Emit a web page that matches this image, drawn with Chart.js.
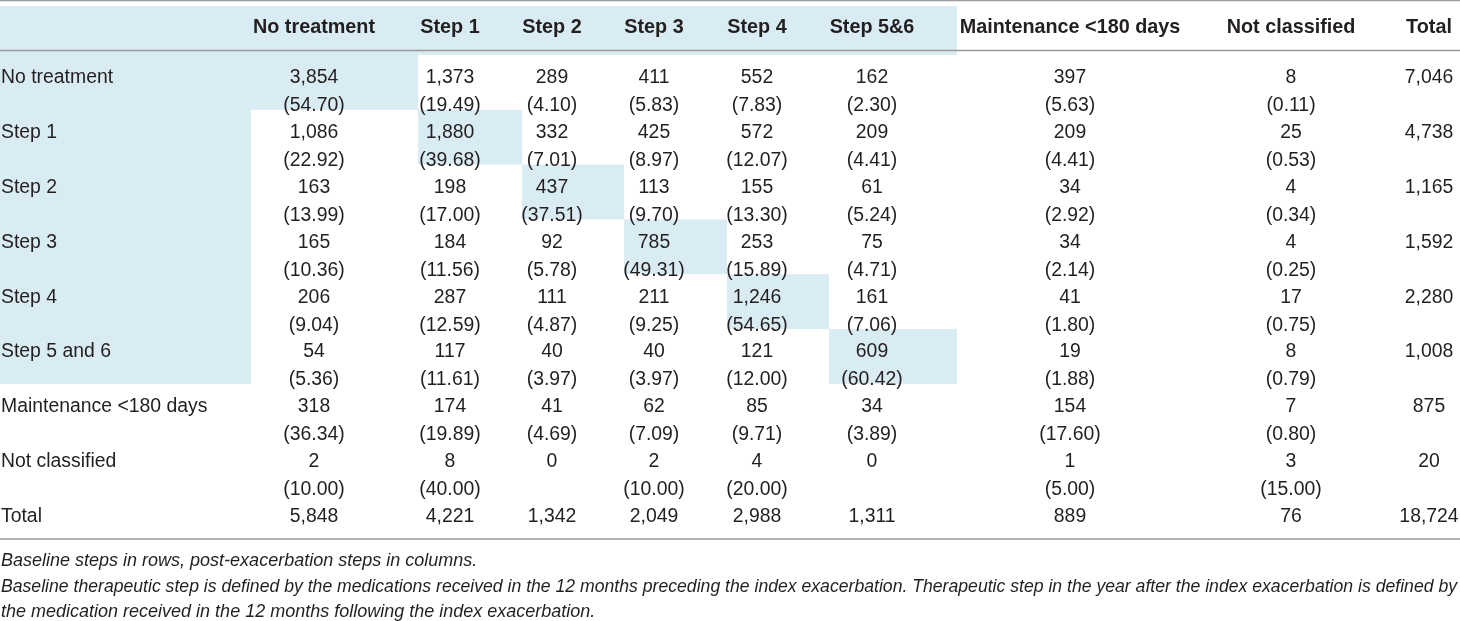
<!DOCTYPE html>
<html>
<head>
<meta charset="utf-8">
<script src="https://cdn.jsdelivr.net/npm/chart.js@4/dist/chart.umd.min.js"></script>
<style>
  html, body { margin: 0; padding: 0; background: #fff; }
  #wrap { width: 1460px; height: 621px; position: relative; }
</style>
</head>
<body>
<div id="wrap"><canvas id="table-chart"></canvas></div>
<script>
// --- Data (baseline steps in rows, post-exacerbation steps in columns) ---
const columnLabels = ['No treatment', 'Step 1', 'Step 2', 'Step 3', 'Step 4', 'Step 5&6', 'Maintenance <180 days', 'Not classified', 'Total'];
const rowLabels = ['No treatment', 'Step 1', 'Step 2', 'Step 3', 'Step 4', 'Step 5 and 6', 'Maintenance <180 days', 'Not classified', 'Total'];

const counts = [
    [3854, 1373, 289, 411, 552, 162, 397, 8],
    [1086, 1880, 332, 425, 572, 209, 209, 25],
    [163, 198, 437, 113, 155, 61, 34, 4],
    [165, 184, 92, 785, 253, 75, 34, 4],
    [206, 287, 111, 211, 1246, 161, 41, 17],
    [54, 117, 40, 40, 121, 609, 19, 8],
    [318, 174, 41, 62, 85, 34, 154, 7],
    [2, 8, 0, 2, 4, 0, 1, 3],
    [5848, 4221, 1342, 2049, 2988, 1311, 889, 76]
];
const rowTotals = [7046, 4738, 1165, 1592, 2280, 1008, 875, 20, 18724];

const percents = [
    [54.70, 19.49, 4.10, 5.83, 7.83, 2.30, 5.63, 0.11],
    [22.92, 39.68, 7.01, 8.97, 12.07, 4.41, 4.41, 0.53],
    [13.99, 17.00, 37.51, 9.70, 13.30, 5.24, 2.92, 0.34],
    [10.36, 11.56, 5.78, 49.31, 15.89, 4.71, 2.14, 0.25],
    [9.04, 12.59, 4.87, 9.25, 54.65, 7.06, 1.80, 0.75],
    [5.36, 11.61, 3.97, 3.97, 12.00, 60.42, 1.88, 0.79],
    [36.34, 19.89, 4.69, 7.09, 9.71, 3.89, 17.60, 0.80],
    [10.00, 40.00, null, 10.00, 20.00, null, 5.00, 15.00],
    null
];

// cells where baseline step == post-exacerbation step (row, column)
const diagonalCells = [[0, 0], [1, 1], [2, 2], [3, 3], [4, 4], [5, 5]];
const shadedHeaderCols = 6;   // label column + No treatment .. Step 5&6
const shadedLabelRows = 6;    // No treatment .. Step 5 and 6

const footnotes = [
    'Baseline steps in rows, post-exacerbation steps in columns.',
    'Baseline therapeutic step is defined by the medications received in the 12 months preceding the index exacerbation. Therapeutic step in the year after the index exacerbation is defined by',
    'the medication received in the 12 months following the index exacerbation.'
];

// --- Layout (table units, 1 unit = 1px of the 1460x621 area) ---
const layout = {
    colEdges: [0, 251, 418, 522, 624, 727, 829, 957],   // label col, then first 7 data cols
    colCenters: [314, 450, 552, 654, 757, 872, 1070, 1291, 1429],
    labelX: 1,
    headerTop: 6,
    headerText: 28,
    headerLine: 50.5,
    rowTop: 55,
    rowH: 54.8,
    valueOffset: 23,
    pctOffset: 51,
    topLine: 0.5,
    bottomLine: 539,
    footY: [560.5, 586.5, 611.5]
};

const textColor = '#231f20';
const shadeColor = '#d9ebf3';
const ruleColor = '#9a9a9a';
const bodyFont = '19.4px "Liberation Sans", Arial, sans-serif';
const headFont = 'bold 19.8px "Liberation Sans", Arial, sans-serif';
const footFont = 'italic 18px "Liberation Sans", Arial, sans-serif';

const fmt = new Intl.NumberFormat('en-US');

const tablePlugin = {
    id: 'tableDraw',
    beforeDatasetsDraw(chart) {
        const ctx = chart.ctx;
        const xs = chart.scales.x, ys = chart.scales.y;
        const X = v => xs.getPixelForValue(v);
        const Y = v => ys.getPixelForValue(v);
        const rowTop = r => layout.rowTop + r * layout.rowH;
        const E = layout.colEdges;

        function rect(x0, x1, y0, y1) {
            ctx.fillRect(X(x0), Y(y0), X(x1) - X(x0), Y(y1) - Y(y0));
        }

        ctx.save();
        // shaded cells
        ctx.fillStyle = shadeColor;
        rect(E[0], E[shadedHeaderCols + 1], layout.headerTop, layout.rowTop);
        rect(E[0], E[1], layout.rowTop, rowTop(shadedLabelRows));
        diagonalCells.forEach(([r, c]) => {
            rect(E[c + 1], E[c + 2], rowTop(r), rowTop(r + 1));
        });

        // rules
        ctx.strokeStyle = ruleColor;
        ctx.lineWidth = 1.5;
        [layout.topLine, layout.headerLine, layout.bottomLine].forEach(y => {
            ctx.beginPath();
            ctx.moveTo(X(0), Y(y));
            ctx.lineTo(X(1460), Y(y));
            ctx.stroke();
        });

        // header
        ctx.fillStyle = textColor;
        ctx.textBaseline = 'middle';
        ctx.textAlign = 'center';
        ctx.font = headFont;
        columnLabels.forEach((lab, c) => {
            ctx.fillText(lab, X(layout.colCenters[c]), Y(layout.headerText));
        });

        // body
        rowLabels.forEach((lab, r) => {
            const yv = rowTop(r) + layout.valueOffset;
            const yp = rowTop(r) + layout.pctOffset;
            ctx.font = bodyFont;
            ctx.textAlign = 'left';
            ctx.fillText(lab, X(layout.labelX), Y(yv));
            ctx.textAlign = 'center';
            counts[r].forEach((v, c) => {
                ctx.fillText(fmt.format(v), X(layout.colCenters[c]), Y(yv));
                const p = percents[r] ? percents[r][c] : null;
                if (p !== null) {
                    ctx.fillText('(' + p.toFixed(2) + ')', X(layout.colCenters[c]), Y(yp));
                }
            });
            ctx.fillText(fmt.format(rowTotals[r]), X(layout.colCenters[8]), Y(yv));
        });

        // footnotes
        ctx.font = footFont;
        ctx.textAlign = 'left';
        footnotes.forEach((t, i) => {
            ctx.fillText(t, X(layout.labelX), Y(layout.footY[i]), X(1457) - X(layout.labelX));
        });
        ctx.restore();
    }
};

new Chart(document.getElementById('table-chart'), {
    type: 'scatter',
    data: { datasets: [] },
    options: {
        responsive: true,
        maintainAspectRatio: false,
        animation: false,
        layout: { padding: 0 },
        plugins: { legend: { display: false }, tooltip: { enabled: false } },
        scales: {
            x: { type: 'linear', min: 0, max: 1460, display: false },
            y: { type: 'linear', min: 0, max: 621, reverse: true, display: false }
        }
    },
    plugins: [tablePlugin]
});
</script>
</body>
</html>
